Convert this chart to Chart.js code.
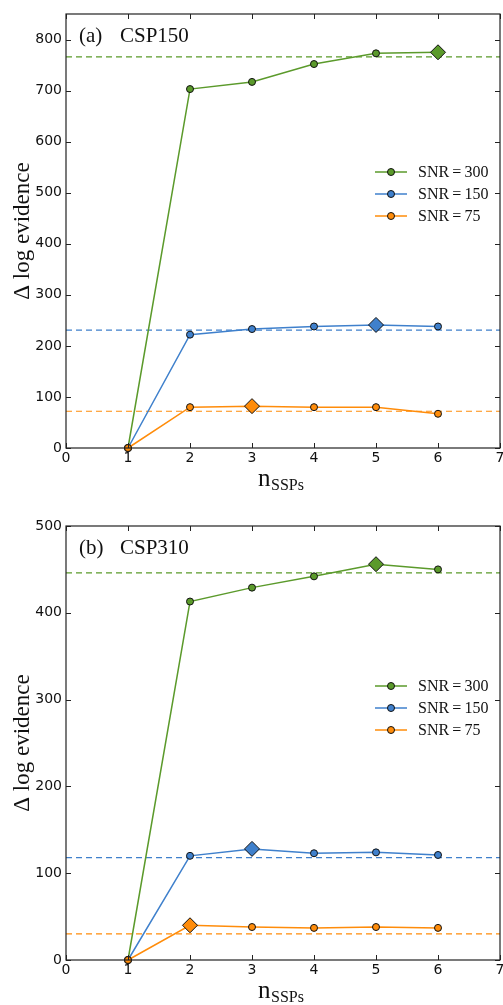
<!DOCTYPE html>
<html>
<head>
<meta charset="utf-8">
<script src="https://cdn.jsdelivr.net/npm/chart.js@4/dist/chart.umd.min.js"></script>
<style>
  body { margin: 0; background: #fff; overflow: hidden; }
  canvas { position: absolute; left: 0; }
  #chartA { top: 0; }
  #chartB { top: 500px; }
</style>
</head>
<body>
<canvas id="chartA" width="503" height="500"></canvas>
<canvas id="chartB" width="503" height="505"></canvas>
<script>
// number of SSPs on the x axis
const nSSPs = [1, 2, 3, 4, 5, 6];
const xTicks = [0, 1, 2, 3, 4, 5, 6, 7];
const snrLabels = ['SNR\u2009=\u2009300', 'SNR\u2009=\u2009150', 'SNR\u2009=\u200975'];

// panel (a) CSP150
const a_snr300 = [0, 703, 717, 752, 773, 775];
const a_snr150 = [0, 222, 233, 238, 241, 238];
const a_snr75 = [0, 80, 82, 80, 80, 67];
const a_truth = [766, 231, 72];
const a_best = [5, 4, 2];   // index of the diamond marker
const a_yTicks = [0, 100, 200, 300, 400, 500, 600, 700, 800];

// panel (b) CSP310
const b_snr300 = [0, 413, 429, 442, 456, 450];
const b_snr150 = [0, 120, 128, 123, 124, 121];
const b_snr75 = [0, 40, 38, 37, 38, 37];
const b_truth = [446, 118, 30];
const b_best = [4, 2, 1];
const b_yTicks = [0, 100, 200, 300, 400, 500];

const colors = ['#5b9a2b', '#3f80cc', '#ff8c0a'];
const serif = '"Liberation Serif", "DejaVu Serif", serif';

function pointsFor(values) {
    return values.map((v, i) => ({ x: nSSPs[i], y: v }));
}

// frame, inward ticks, x tick labels, titles and legend drawn over the chart
function overlayPlugin(panelLabel, yTicks, legendTop) {
    return {
        id: 'overlay',
        afterDraw(chart) {
            const ctx = chart.ctx;
            const area = chart.chartArea;
            const xs = chart.scales.x, ys = chart.scales.y;
            ctx.save();
            ctx.strokeStyle = '#222';
            ctx.lineWidth = 1.2;
            ctx.strokeRect(area.left, area.top, area.right - area.left, area.bottom - area.top);
            ctx.lineWidth = 1;
            ctx.beginPath();
            xTicks.forEach(t => {
                const px = Math.round(xs.getPixelForValue(t)) + 0.5;
                ctx.moveTo(px, area.bottom); ctx.lineTo(px, area.bottom - 5);
                ctx.moveTo(px, area.top); ctx.lineTo(px, area.top + 5);
            });
            yTicks.forEach(t => {
                const py = Math.round(ys.getPixelForValue(t)) + 0.5;
                ctx.moveTo(area.left, py); ctx.lineTo(area.left + 5, py);
                ctx.moveTo(area.right, py); ctx.lineTo(area.right - 5, py);
            });
            ctx.stroke();

            // x tick labels
            ctx.fillStyle = '#111';
            ctx.font = '14px "DejaVu Sans"';
            ctx.textAlign = 'center';
            ctx.textBaseline = 'top';
            xTicks.forEach(t => {
                ctx.fillText(String(t), xs.getPixelForValue(t), area.bottom + 3);
            });

            // panel label
            ctx.font = '21px ' + serif;
            ctx.textBaseline = 'alphabetic';
            ctx.textAlign = 'left';
            ctx.fillText(panelLabel[0], area.left + 13, area.top + 28);
            ctx.fillText(panelLabel[1], area.left + 54, area.top + 28);

            // y axis title
            ctx.save();
            ctx.translate(29, (area.top + area.bottom) / 2);
            ctx.rotate(-Math.PI / 2);
            ctx.textAlign = 'center';
            ctx.font = '23px ' + serif;
            ctx.fillText('\u0394 log evidence', 0, 0);
            ctx.restore();

            // x axis title with subscript
            ctx.font = '25px ' + serif;
            ctx.textAlign = 'left';
            const nx = 258, ny = area.bottom + 38;
            ctx.fillText('n', nx, ny);
            ctx.font = '16px ' + serif;
            ctx.fillText('SSPs', nx + 13, ny + 4);

            // legend
            ctx.font = '16px ' + serif;
            ctx.textBaseline = 'middle';
            snrLabels.forEach((lab, i) => {
                const ly = legendTop + i * 22;
                ctx.strokeStyle = colors[i];
                ctx.lineWidth = 1.5;
                ctx.beginPath();
                ctx.moveTo(375, ly); ctx.lineTo(407, ly);
                ctx.stroke();
                ctx.beginPath();
                ctx.arc(391, ly, 3.5, 0, Math.PI * 2);
                ctx.fillStyle = colors[i];
                ctx.fill();
                ctx.strokeStyle = '#111';
                ctx.lineWidth = 1;
                ctx.stroke();
                ctx.fillStyle = '#111';
                ctx.fillText(lab, 418, ly + 1);
            });
            ctx.restore();
        }
    };
}

function makeChart(canvasId, series, truth, best, yMax, yTicks, padTop, xHeight, panelLabel, legendTop) {
    const datasets = [];
    series.forEach((vals, i) => {
        datasets.push({
            label: snrLabels[i],
            data: pointsFor(vals),
            borderColor: colors[i],
            backgroundColor: colors[i],
            borderWidth: 1.5,
            pointBorderColor: '#111',
            pointBorderWidth: 1,
            pointStyle: vals.map((v, k) => k === best[i] ? 'rectRot' : 'circle'),
            pointRadius: vals.map((v, k) => k === best[i] ? 7.5 : 3.5),
            clip: false,
            order: 3 - i
        });
        datasets.push({
            label: 'truth ' + snrLabels[i],
            data: [{ x: xTicks[0], y: truth[i] }, { x: xTicks[xTicks.length - 1], y: truth[i] }],
            borderColor: colors[i],
            borderWidth: 1.2,
            borderDash: [6, 4],
            pointRadius: 0,
            order: 10
        });
    });

    return new Chart(document.getElementById(canvasId), {
        type: 'line',
        data: { datasets: datasets },
        options: {
            responsive: false,
            animation: false,
            layout: { autoPadding: false, padding: { top: padTop, right: 3, left: 0, bottom: 0 } },
            plugins: { legend: { display: false }, tooltip: { enabled: false } },
            scales: {
                x: {
                    type: 'linear', min: 0, max: 7,
                    grid: { display: false, drawTicks: false },
                    border: { display: false },
                    afterBuildTicks: s => { s.ticks = xTicks.map(v => ({ value: v })); },
                    afterFit: s => { s.height = xHeight; s.paddingLeft = 0; s.paddingRight = 0; },
                    ticks: { display: false }
                },
                y: {
                    type: 'linear', min: 0, max: yMax,
                    grid: { display: false, drawTicks: false },
                    border: { display: false },
                    afterBuildTicks: s => { s.ticks = yTicks.map(v => ({ value: v })); },
                    afterFit: s => { s.width = 66; s.paddingTop = 0; s.paddingBottom = 0; },
                    ticks: { color: '#111', padding: 4, font: { family: 'DejaVu Sans', size: 14 } }
                }
            }
        },
        plugins: [overlayPlugin(panelLabel, yTicks, legendTop)]
    });
}

makeChart('chartA', [a_snr300, a_snr150, a_snr75], a_truth, a_best, 850, a_yTicks,
    14, 52, ['(a)', 'CSP150'], 172);
makeChart('chartB', [b_snr300, b_snr150, b_snr75], b_truth, b_best, 500, b_yTicks,
    26, 45, ['(b)', 'CSP310'], 186);
</script>
</body>
</html>
